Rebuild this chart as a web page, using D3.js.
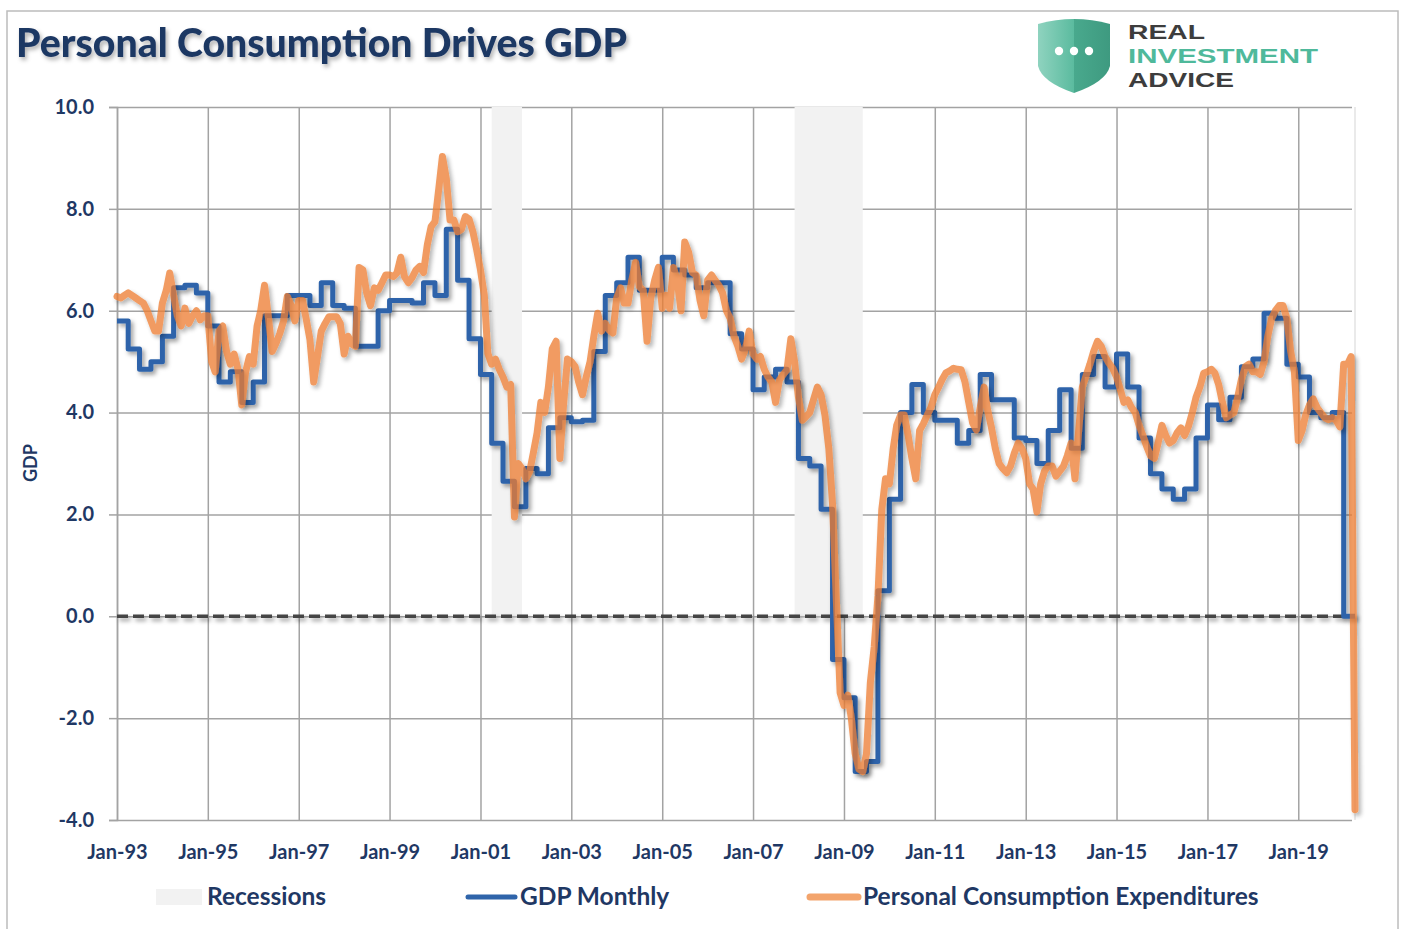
<!DOCTYPE html>
<html>
<head>
    <meta charset="utf-8" />
    <title>Personal Consumption Drives GDP</title>
    <script src="https://d3js.org/d3.v7.min.js"></script>
    <style>
        body { margin: 0; background: #fff; }
        text { font-family: Lato, "Open Sans", sans-serif; }
    </style>
</head>
<body>
<script type="text/javascript">
    // quarterly GDP yoy, 1993Q1 .. 2020Q1
    var gdpValues = [
        5.8, 5.25, 4.85, 5.0,   5.5, 6.45, 6.5, 6.35,   5.7, 4.6, 4.8, 4.2,
        4.6, 5.9, 5.9, 6.3,     6.3, 6.1, 6.55, 6.1,    6.05, 5.3, 5.3, 6.0,
        6.2, 6.2, 6.15, 6.55,   6.3, 7.6, 6.6, 5.45,    4.75, 3.4, 2.65, 2.15,
        2.9, 2.8, 3.7, 3.9,     3.82, 3.85, 5.2, 6.3,   6.55, 7.05, 6.4, 6.4,
        7.05, 6.8, 6.7, 6.45,   6.55, 6.55, 5.55, 5.25, 4.45, 4.7, 4.85, 4.6,
        3.1, 2.95, 2.1, -0.85,  -1.6, -3.05, -2.85, 0.5, 2.3, 4.0, 4.55, 4.0,
        3.85, 3.85, 3.4, 3.65,  4.75, 4.25, 4.25, 3.5,  3.45, 3.0, 3.65, 4.45,
        3.3, 4.75, 5.1, 4.5,    5.15, 4.5, 3.5, 2.8,    2.5, 2.3, 2.5, 3.5,
        4.15, 3.86, 4.3, 4.9,   5.05, 5.95, 5.85, 4.95, 4.7, 4.0, 3.9, 4.0,
        0.0
    ];

    // monthly personal consumption expenditures yoy, Jan-93 .. Apr-20
    var pceValues = [
        6.28, 6.25, 6.3, 6.35, 6.3, 6.25, 6.2, 6.15, 6.0, 5.8, 5.6, 5.6,      // 1993
        6.15, 6.4, 6.74, 6.3, 5.9, 5.7, 6.05, 5.75, 5.9, 6.0, 5.82, 5.9,      // 1994
        5.9, 5.0, 4.8, 5.6, 5.7, 5.2, 4.95, 5.15, 4.85, 4.15, 4.8, 5.1,       // 1995
        4.95, 5.7, 6.0, 6.5, 5.9, 5.2, 5.35, 5.55, 5.8, 6.28, 6.1, 5.8,       // 1996
        6.2, 6.2, 5.85, 5.43, 4.6, 5.1, 5.6, 5.75, 5.88, 5.88, 5.88, 5.75,    // 1997
        5.15, 5.5, 5.35, 5.3, 6.85, 6.8, 6.35, 6.1, 6.45, 6.4, 6.55, 6.7,     // 1998
        6.7, 6.67, 6.74, 7.05, 6.67, 6.55, 6.65, 6.8, 6.87, 6.75, 7.3, 7.65,  // 1999
        7.75, 8.4, 9.03, 8.6, 7.78, 7.78, 7.55, 7.6, 7.85, 7.8, 7.55, 7.2,    // 2000
        6.8, 6.3, 5.16, 4.95, 5.05, 4.85, 4.7, 4.5, 4.55, 1.95, 3.0, 2.9,     // 2001
        2.7, 2.85, 3.2, 3.6, 4.2, 4.0, 4.5, 5.25, 5.4, 3.1, 4.2, 5.05,        // 2002
        5.0, 4.9, 4.6, 4.35, 4.7, 5.0, 5.5, 5.95, 5.6, 5.75, 5.62, 5.56,      // 2003
        6.25, 6.45, 6.15, 6.15, 6.6, 6.95, 6.47, 6.4, 5.4, 6.25, 6.6, 6.85,   // 2004
        6.05, 6.3, 6.05, 6.85, 6.6, 6.0, 7.35, 7.15, 6.75, 6.7, 6.2, 5.9,     // 2005
        6.6, 6.7, 6.6, 6.5, 6.35, 6.0, 5.85, 5.5, 5.3, 5.05, 5.25, 5.6,       // 2006
        5.15, 5.05, 5.1, 4.85, 4.7, 4.6, 4.2, 4.64, 4.75, 4.84, 5.45, 5.0,    // 2007
        4.3, 3.85, 3.92, 4.0, 4.25, 4.5, 4.35, 3.95, 3.3, 2.2, 0.3, -1.5,     // 2008
        -1.75, -1.55, -2.0, -2.7, -3.0, -3.05, -2.7, -1.3, -0.6, 0.4, 2.1, 2.7, // 2009
        2.6, 3.3, 3.75, 3.95, 3.95, 3.55, 3.1, 2.7, 3.65, 3.78, 3.95, 4.1,    // 2010
        4.35, 4.5, 4.65, 4.78, 4.82, 4.87, 4.85, 4.84, 4.6, 4.2, 3.8, 3.66,   // 2011
        4.1, 4.5, 4.05, 3.7, 3.3, 3.0, 2.9, 2.82, 2.95, 3.2, 3.4, 3.3,        // 2012
        3.1, 2.6, 2.5, 2.05, 2.6, 2.85, 2.95, 2.95, 2.75, 2.85, 2.95, 3.15,   // 2013
        3.4, 2.7, 3.6, 4.5, 4.72, 4.95, 5.2, 5.4, 5.3, 5.1, 4.97, 4.87,       // 2014
        4.7, 4.45, 4.2, 4.25, 4.1, 4.0, 3.75, 3.55, 3.33, 3.15, 3.1, 3.4,     // 2015
        3.75, 3.55, 3.4, 3.45, 3.6, 3.7, 3.55, 3.73, 4.0, 4.3, 4.5, 4.77,     // 2016
        4.8, 4.85, 4.78, 4.55, 4.2, 3.9, 3.95, 4.0, 4.3, 4.65, 4.9, 4.95,     // 2017
        4.8, 4.8, 4.75, 5.0, 5.5, 5.85, 6.0, 6.1, 6.1, 5.85, 5.2, 4.8,        // 2018
        3.45, 3.65, 3.95, 4.15, 4.27, 4.1, 4.0, 3.9, 3.86, 3.9, 3.85, 3.72,   // 2019
        4.95, 4.95, 5.1, -3.8                                                 // 2020
    ];

    var recessions = [
        [new Date(2001, 3, 1), new Date(2001, 11, 1)],
        [new Date(2007, 11, 1), new Date(2009, 5, 1)]
    ];

    var tickYears = d3.range(1993, 2020, 2);
    var yTicks = [-4, -2, 0, 2, 4, 6, 8, 10];

    var w = 1403, h = 929;
    var plot = {left: 117, right: 1355, top: 107, bottom: 820};

    var navy = "#1F3864";
    var gridColor = "#a3a3a3";

    var svg = d3.select("body").append("svg")
        .attr("width", w)
        .attr("height", h);

    var defs = svg.append("defs");
    defs.append("filter").attr("id", "shadow")
        .attr("filterUnits", "userSpaceOnUse")
        .attr("x", 0).attr("y", 0).attr("width", w).attr("height", h)
        .append("feDropShadow")
        .attr("dx", 2.5).attr("dy", 3).attr("stdDeviation", 2.2)
        .attr("flood-color", "#000").attr("flood-opacity", 0.38);
    defs.append("filter").attr("id", "textShadow")
        .attr("filterUnits", "userSpaceOnUse")
        .attr("x", 0).attr("y", 0).attr("width", w).attr("height", 120)
        .append("feDropShadow")
        .attr("dx", 2).attr("dy", 3).attr("stdDeviation", 2)
        .attr("flood-color", "#000").attr("flood-opacity", 0.3);

    var shieldGrad = defs.append("linearGradient").attr("id", "shieldGrad")
        .attr("x1", 0).attr("x2", 1).attr("y1", 0).attr("y2", 0);
    shieldGrad.append("stop").attr("offset", "0%").attr("stop-color", "#8fd3bf");
    shieldGrad.append("stop").attr("offset", "50%").attr("stop-color", "#5bbb9f");
    shieldGrad.append("stop").attr("offset", "50%").attr("stop-color", "#49a98d");
    shieldGrad.append("stop").attr("offset", "100%").attr("stop-color", "#3e9a80");

    // outer frame
    svg.append("rect")
        .attr("x", 7).attr("y", 11)
        .attr("width", 1391).attr("height", 940)
        .attr("fill", "#fff")
        .attr("stroke", "#bcbcbc").attr("stroke-width", 1.5);

    var x = d3.scaleTime()
        .domain([new Date(1993, 0, 1), new Date(2020, 3, 1)])
        .range([plot.left, plot.right]);

    var y = d3.scaleLinear()
        .domain([-4, 10])
        .range([plot.bottom, plot.top]);

    // grid
    var xGrid = svg.append("g")
        .attr("transform", "translate(0," + plot.bottom + ")")
        .call(d3.axisBottom(x)
            .tickValues(tickYears.map(function(yr){ return new Date(yr, 0, 1); }))
            .tickSize(-(plot.bottom - plot.top))
            .tickFormat(""));
    xGrid.select(".domain").remove();
    xGrid.selectAll("line").attr("stroke", gridColor).attr("stroke-width", 1.5);

    var yGrid = svg.append("g")
        .attr("transform", "translate(" + plot.left + ",0)")
        .call(d3.axisLeft(y)
            .tickValues(yTicks)
            .tickSize(-(plot.right - plot.left - 3))
            .tickFormat(""));
    yGrid.select(".domain").remove();
    yGrid.selectAll("line").attr("stroke", gridColor).attr("stroke-width", 1.5);

    // faint right edge
    svg.append("line")
        .attr("x1", plot.right).attr("x2", plot.right)
        .attr("y1", plot.top).attr("y2", plot.bottom)
        .attr("stroke", "#e3e3e3").attr("stroke-width", 1.5);

    // recession bars
    svg.append("g").selectAll("rect")
        .data(recessions)
        .enter().append("rect")
        .attr("x", function(d){ return x(d[0]); })
        .attr("width", function(d){ return x(d[1]) - x(d[0]); })
        .attr("y", y(10))
        .attr("height", y(0) - y(10))
        .attr("fill", "#f2f2f2");

    // y axis
    var yFormat = function(v){ return d3.format(".1f")(v).replace("\u2212", "-"); };
    var yAxis = svg.append("g")
        .attr("transform", "translate(" + plot.left + ",0)")
        .call(d3.axisLeft(y)
            .tickValues(yTicks)
            .tickSize(8)
            .tickPadding(15)
            .tickFormat(yFormat));
    yAxis.select(".domain").attr("stroke", gridColor).attr("stroke-width", 1.5);
    yAxis.selectAll("line").attr("stroke", gridColor).attr("stroke-width", 1.5);
    yAxis.selectAll("text")
        .attr("fill", navy)
        .style("font-size", "20px")
        .style("font-weight", "700");

    // x axis labels
    var xAxis = svg.append("g")
        .attr("transform", "translate(0," + plot.bottom + ")")
        .call(d3.axisBottom(x)
            .tickValues(tickYears.map(function(yr){ return new Date(yr, 0, 1); }))
            .tickSize(0)
            .tickPadding(25)
            .tickFormat(d3.timeFormat("%b-%y")));
    xAxis.select(".domain").remove();
    xAxis.selectAll("text")
        .attr("fill", navy)
        .style("font-size", "20px")
        .style("font-weight", "700");

    // y axis title
    svg.append("text")
        .attr("transform", "translate(37,463) rotate(-90)")
        .attr("text-anchor", "middle")
        .attr("fill", navy)
        .style("font-size", "18px")
        .style("font-weight", "700")
        .text("GDP");

    // zero line
    svg.append("line")
        .attr("x1", plot.left).attr("x2", plot.right)
        .attr("y1", y(0)).attr("y2", y(0))
        .attr("stroke", "#454545")
        .attr("stroke-width", 3.5)
        .attr("stroke-dasharray", "11,5")
        .attr("filter", "url(#shadow)");

    var gdpData = gdpValues.map(function(v, i){ return {date: new Date(1993, i * 3, 1), value: v}; });
    gdpData.push({date: x.domain()[1], value: gdpValues[gdpValues.length - 1]});

    var pceData = pceValues.map(function(v, i){ return {date: new Date(1993, i, 1), value: v}; });

    var gdpLine = d3.line()
        .x(function(d){ return x(d.date); })
        .y(function(d){ return y(d.value); })
        .curve(d3.curveStepAfter);

    var pceLine = d3.line()
        .x(function(d){ return x(d.date); })
        .y(function(d){ return y(d.value); });

    svg.append("path")
        .datum(gdpData)
        .attr("d", gdpLine)
        .attr("fill", "none")
        .attr("stroke", "#2F64AA")
        .attr("stroke-width", 5)
        .attr("stroke-linejoin", "round")
        .attr("filter", "url(#shadow)");

    svg.append("g")
        .attr("opacity", 0.76)
        .attr("filter", "url(#shadow)")
        .append("path")
        .datum(pceData)
        .attr("d", pceLine)
        .attr("fill", "none")
        .attr("stroke", "#ED7D31")
        .attr("stroke-width", 7)
        .attr("stroke-linejoin", "round")
        .attr("stroke-linecap", "round");

    // title
    svg.append("text")
        .attr("x", 16).attr("y", 57)
        .attr("fill", navy)
        .attr("filter", "url(#textShadow)")
        .attr("textLength", 611)
        .attr("lengthAdjust", "spacingAndGlyphs")
        .style("font-size", "40px")
        .style("font-weight", "900")
        .text("Personal Consumption Drives GDP");

    // logo
    var logo = svg.append("g");
    logo.append("path")
        .attr("d", "M1038,24 Q1074,14 1110,24 L1110,66 Q1106,82 1074,93 Q1042,82 1038,66 Z")
        .attr("fill", "url(#shieldGrad)");
    logo.selectAll("circle")
        .data([-15, 0, 15])
        .enter().append("circle")
        .attr("cx", function(d){ return 1074 + d; })
        .attr("cy", 51)
        .attr("r", 4.2)
        .attr("fill", "#fff");
    var logoText = [
        {t: "REAL", y: 39, c: "#3d3d3d", len: 77},
        {t: "INVESTMENT", y: 63, c: "#4fb99b", len: 190},
        {t: "ADVICE", y: 87, c: "#3d3d3d", len: 106}
    ];
    logo.selectAll("text")
        .data(logoText)
        .enter().append("text")
        .attr("x", 1128)
        .attr("y", function(d){ return d.y; })
        .attr("fill", function(d){ return d.c; })
        .attr("textLength", function(d){ return d.len; })
        .attr("lengthAdjust", "spacingAndGlyphs")
        .style("font-family", "'Liberation Sans', Arial, sans-serif")
        .style("font-size", "21px")
        .style("font-weight", "700")
        .text(function(d){ return d.t; });

    // legend
    var leg = svg.append("g");
    var legY = 897;
    leg.append("rect")
        .attr("x", 156).attr("y", legY - 8)
        .attr("width", 46).attr("height", 16)
        .attr("fill", "#f2f2f2");
    leg.append("text").attr("x", 207).attr("y", legY + 8)
        .text("Recessions");
    leg.append("line")
        .attr("x1", 468).attr("x2", 515).attr("y1", legY).attr("y2", legY)
        .attr("stroke", "#2F64AA").attr("stroke-width", 5).attr("stroke-linecap", "round");
    leg.append("text").attr("x", 520).attr("y", legY + 8)
        .text("GDP Monthly");
    leg.append("line")
        .attr("x1", 810).attr("x2", 858).attr("y1", legY).attr("y2", legY)
        .attr("stroke", "#F3A46C").attr("stroke-width", 7).attr("stroke-linecap", "round");
    leg.append("text").attr("x", 863).attr("y", legY + 8)
        .text("Personal Consumption Expenditures");
    leg.selectAll("text")
        .attr("fill", navy)
        .style("font-size", "24.5px")
        .style("font-weight", "700");
</script>
</body>
</html>
